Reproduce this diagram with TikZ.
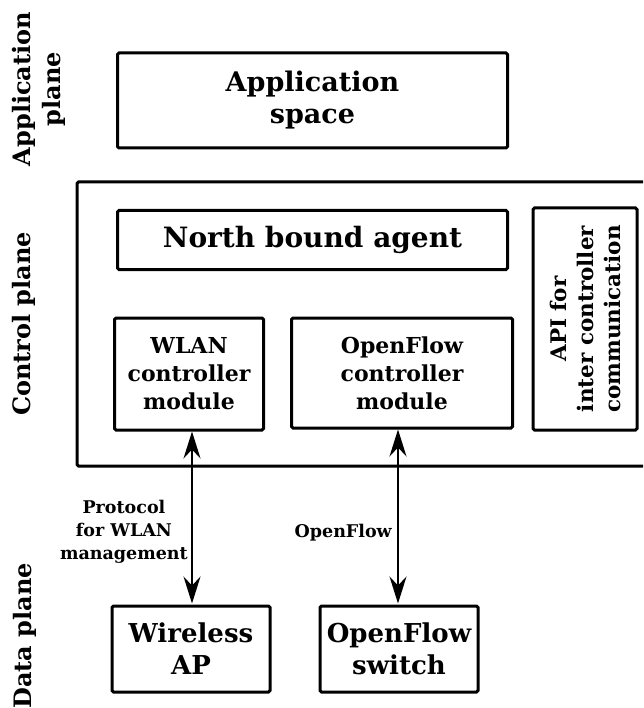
\documentclass[tikz,border=0pt]{standalone}
\usepackage{fontspec}
\setmainfont{DejaVu Serif}
\usetikzlibrary{arrows.meta}
\tikzset{
  box/.style={draw, line width=3pt, rounded corners=1.5pt, align=center, inner sep=0pt, font=\bfseries},
  lane/.style={rotate=90, align=center, font=\bfseries\fontsize{24}{30}\selectfont},
  link/.style={line width=1.8pt, {Stealth[length=27pt,width=17pt,inset=9pt]}-{Stealth[length=27pt,width=17pt,inset=9pt]}},
  tag/.style={align=center, inner sep=0pt, font=\bfseries\fontsize{17.5}{23}\selectfont}
}
\begin{document}
\begin{tikzpicture}[x=1pt,y=-1pt]
\useasboundingbox (0,0) rectangle (643,708);
\clip (0,0) rectangle (643,708);

% plane labels on the left
\node[lane] (lapp) at (39,89) {Application\\plane};
\node[lane] (lctl) at (24,324) {Control plane};
\node[lane] (ldat) at (25,636) {Data plane};

% application plane
\node[box, minimum width=390pt, minimum height=95pt,
      font=\bfseries\fontsize{27}{32}\selectfont] (app) at (312.5,100.5) {Application\\space};

% control plane frame, running past the right edge
\node[box, minimum width=590pt, minimum height=284pt] (ctrl) at (372,324) {};

\node[box, minimum width=390pt, minimum height=59pt,
      font=\bfseries\fontsize{28}{30}\selectfont] (nba) at (312.5,240) {North bound agent};
\node[box, minimum width=104pt, minimum height=222pt] (apibox) at (585,319) {};
\node[rotate=90, align=center, font=\bfseries\fontsize{21.5}{27}\selectfont] (api) at (apibox.center) {API for\\inter controller\\communication};
\node[box, minimum width=149pt, minimum height=112pt,
      font=\bfseries\fontsize{22}{28}\selectfont] (wlan) at (189,374) {WLAN\\controller\\module};
\node[box, minimum width=221pt, minimum height=110pt,
      font=\bfseries\fontsize{22}{28}\selectfont] (ofc) at (402,373) {OpenFlow\\controller\\module};

% data plane
\node[box, minimum width=158pt, minimum height=86pt,
      font=\bfseries\fontsize{26}{32}\selectfont] (wap) at (191,649) {Wireless\\AP};
\node[box, minimum width=158pt, minimum height=86pt,
      font=\bfseries\fontsize{26}{32}\selectfont] (ofs) at (399,649) {OpenFlow\\switch};

% southbound links
\coordinate (w1) at ([xshift=3pt]wlan.south);
\coordinate (w2) at ([xshift=1pt,yshift=1pt]wap.north);
\draw[link] (w1) -- (w2);
\coordinate (o1) at ([xshift=-4pt]ofc.south);
\draw[link] (o1) -- ([xshift=-1pt,yshift=1pt]ofs.north);

\node[tag, anchor=east] (pw) at (188,532) {Protocol\\for WLAN\\management};
\node[tag, anchor=east] (po) at (392,533) {OpenFlow};
\end{tikzpicture}
\end{document}
